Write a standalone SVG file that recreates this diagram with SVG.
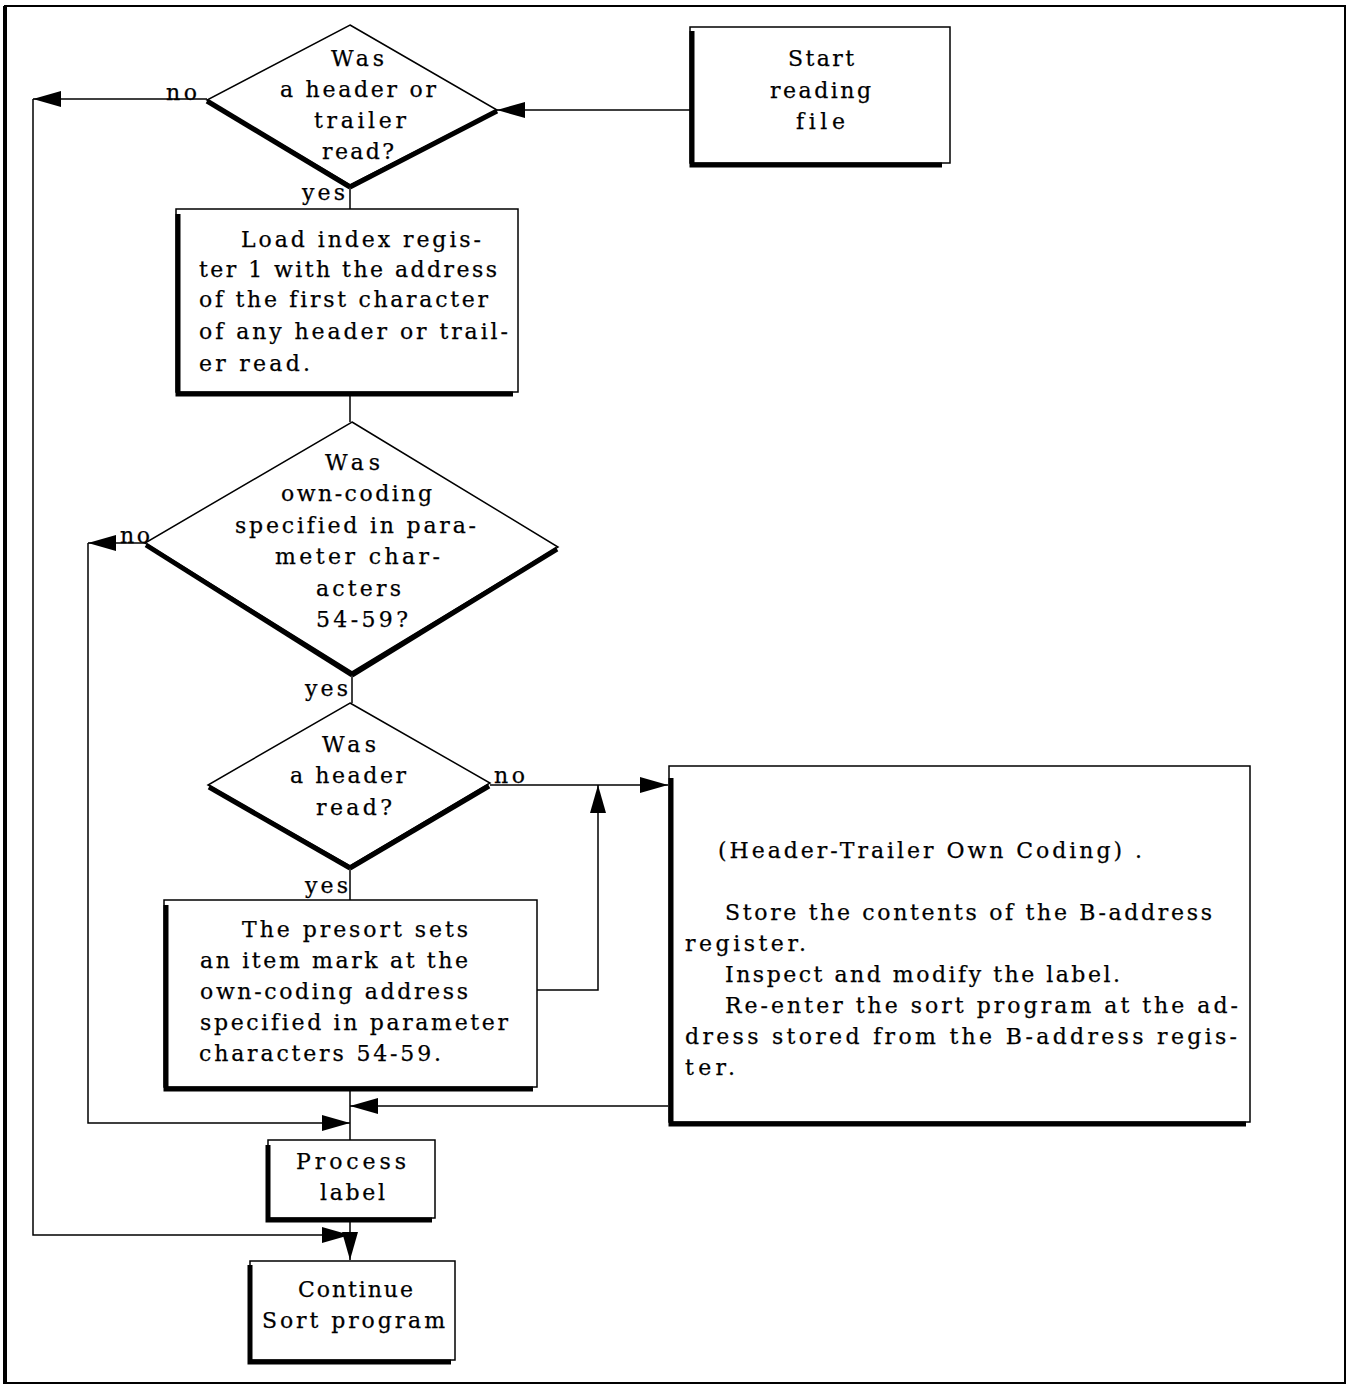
<svg xmlns="http://www.w3.org/2000/svg" width="1353" height="1386" viewBox="0 0 1353 1386">
<style>
.t{font-family:"DejaVu Serif","Liberation Serif",serif;font-size:22px;fill:#000;font-variant-ligatures:none;stroke:#000;stroke-width:0.25}
.box{fill:#fff;stroke:#000;stroke-width:1.5}
.sh{fill:none;stroke:#000;stroke-width:5;stroke-linejoin:miter}
.ln{fill:none;stroke:#000;stroke-width:1.5}
</style>
<defs>
<marker id="ah" markerUnits="userSpaceOnUse" markerWidth="28" markerHeight="16" refX="28" refY="8" orient="auto">
<path d="M0,0 L28,8 L0,16 z" fill="#000"/>
</marker>
</defs>
<rect width="1353" height="1386" fill="#fff"/>
<g id="frame">
<rect x="5" y="6" width="1340" height="1377" fill="none" stroke="#000" stroke-width="2"/>
<line x1="5" y1="6" x2="5" y2="1384" stroke="#000" stroke-width="4"/>
</g>
<g id="connectors" class="ln">
<path d="M690,110 H497" marker-end="url(#ah)"/>
<path d="M207,99 H33" marker-end="url(#ah)"/>
<path d="M33,99 V1235 H350" marker-end="url(#ah)"/>
<path d="M350,185 V209"/>
<path d="M350,395 V422"/>
<path d="M145,543 H88" marker-end="url(#ah)"/>
<path d="M88,543 V1123 H350" marker-end="url(#ah)"/>
<path d="M352,672 V703"/>
<path d="M490,785 H668" marker-end="url(#ah)"/>
<path d="M350,866 V900"/>
<path d="M537,990 H598 V785" marker-end="url(#ah)"/>
<path d="M350,1090 V1140"/>
<path d="M668,1106 H350" marker-end="url(#ah)"/>
<path d="M350,1220 V1260" marker-end="url(#ah)"/>
</g>
<g id="labels">
<text class="t" x="166" y="100" textLength="31">no</text>
<text class="t" x="302" y="200" textLength="43">yes</text>
<text class="t" x="120" y="543" textLength="30">no</text>
<text class="t" x="305" y="696" textLength="43">yes</text>
<text class="t" x="494" y="783" textLength="31">no</text>
<text class="t" x="305" y="893" textLength="43">yes</text>
</g>
<g id="d1">
<polygon class="box" points="350,25 497,110 350,185 207,100"/>
<path class="sh" d="M207,101 L350,187" stroke-width="7"/>
<path class="sh" d="M350,187 L497,111"/>
<text class="t" x="331" y="66" textLength="53">Was</text>
<text class="t" x="280" y="97" textLength="156">a header or</text>
<text class="t" x="314" y="128" textLength="92">trailer</text>
<text class="t" x="322" y="159" textLength="72">read?</text>
</g>
<g id="start">
<rect class="box" x="690" y="27" width="260" height="136"/>
<path class="sh" d="M692,31 V165 H942"/>
<text class="t" x="788" y="66" textLength="66">Start</text>
<text class="t" x="770" y="98" textLength="101">reading</text>
<text class="t" x="796" y="129" textLength="49">file</text>
</g>
<g id="load">
<rect class="box" x="176" y="209" width="342" height="183"/>
<path class="sh" d="M178,214 V394 H513"/>
<text class="t" x="241" y="247" textLength="240">Load index regis-</text>
<text class="t" x="199" y="277" textLength="298">ter 1 with the address</text>
<text class="t" x="199" y="307" textLength="289">of the first character</text>
<text class="t" x="199" y="339" textLength="309">of any header or trail-</text>
<text class="t" x="199" y="371" textLength="111">er read.</text>
</g>
<g id="d2">
<polygon class="box" points="352,422 558,547 352,672 145,543"/>
<path class="sh" d="M146,545 L352,675" stroke-width="7"/>
<path class="sh" d="M352,675 L557,549"/>
<text class="t" x="325" y="470" textLength="55">Was</text>
<text class="t" x="281" y="501" textLength="151">own-coding</text>
<text class="t" x="235" y="533" textLength="241">specified in para-</text>
<text class="t" x="275" y="564" textLength="165">meter char-</text>
<text class="t" x="316" y="596" textLength="85">acters</text>
<text class="t" x="316" y="627" textLength="92">54-59?</text>
</g>
<g id="d3">
<polygon class="box" points="350,703 490,783 350,866 208,785"/>
<path class="sh" d="M209,787 L350,868" stroke-width="6"/>
<path class="sh" d="M350,868 L489,786"/>
<text class="t" x="322" y="752" textLength="54">Was</text>
<text class="t" x="290" y="783" textLength="116">a header</text>
<text class="t" x="316" y="815" textLength="76">read?</text>
</g>
<g id="presort">
<rect class="box" x="164" y="900" width="373" height="187"/>
<path class="sh" d="M166,905 V1089 H533"/>
<text class="t" x="242" y="937" textLength="226">The presort sets</text>
<text class="t" x="200" y="968" textLength="268">an item mark at the</text>
<text class="t" x="200" y="999" textLength="268">own-coding address</text>
<text class="t" x="200" y="1030" textLength="308">specified in parameter</text>
<text class="t" x="199" y="1061" textLength="242">characters 54-59.</text>
</g>
<g id="owncoding">
<rect class="box" x="669" y="766" width="581" height="356"/>
<path class="sh" d="M671,778 V1124 H1246"/>
<text class="t" x="718" y="858" textLength="424">(Header-Trailer Own Coding) .</text>
<text class="t" x="725" y="920" textLength="487">Store the contents of the B-address</text>
<text class="t" x="685" y="951" textLength="121">register.</text>
<text class="t" x="725" y="982" textLength="395">Inspect and modify the label.</text>
<text class="t" x="725" y="1013" textLength="513">Re-enter the sort program at the ad-</text>
<text class="t" x="685" y="1044" textLength="552">dress stored from the B-address regis-</text>
<text class="t" x="685" y="1075" textLength="50">ter.</text>
</g>
<g id="process">
<rect class="box" x="268" y="1140" width="167" height="78"/>
<path class="sh" d="M268,1145 V1220 H432"/>
<text class="t" x="296" y="1169" textLength="110">Process</text>
<text class="t" x="320" y="1200" textLength="65">label</text>
</g>
<g id="continue">
<rect class="box" x="250" y="1261" width="205" height="99"/>
<path class="sh" d="M250,1265 V1362 H451"/>
<text class="t" x="298" y="1297" textLength="115">Continue</text>
<text class="t" x="262" y="1328" textLength="183">Sort program</text>
</g>
</svg>
